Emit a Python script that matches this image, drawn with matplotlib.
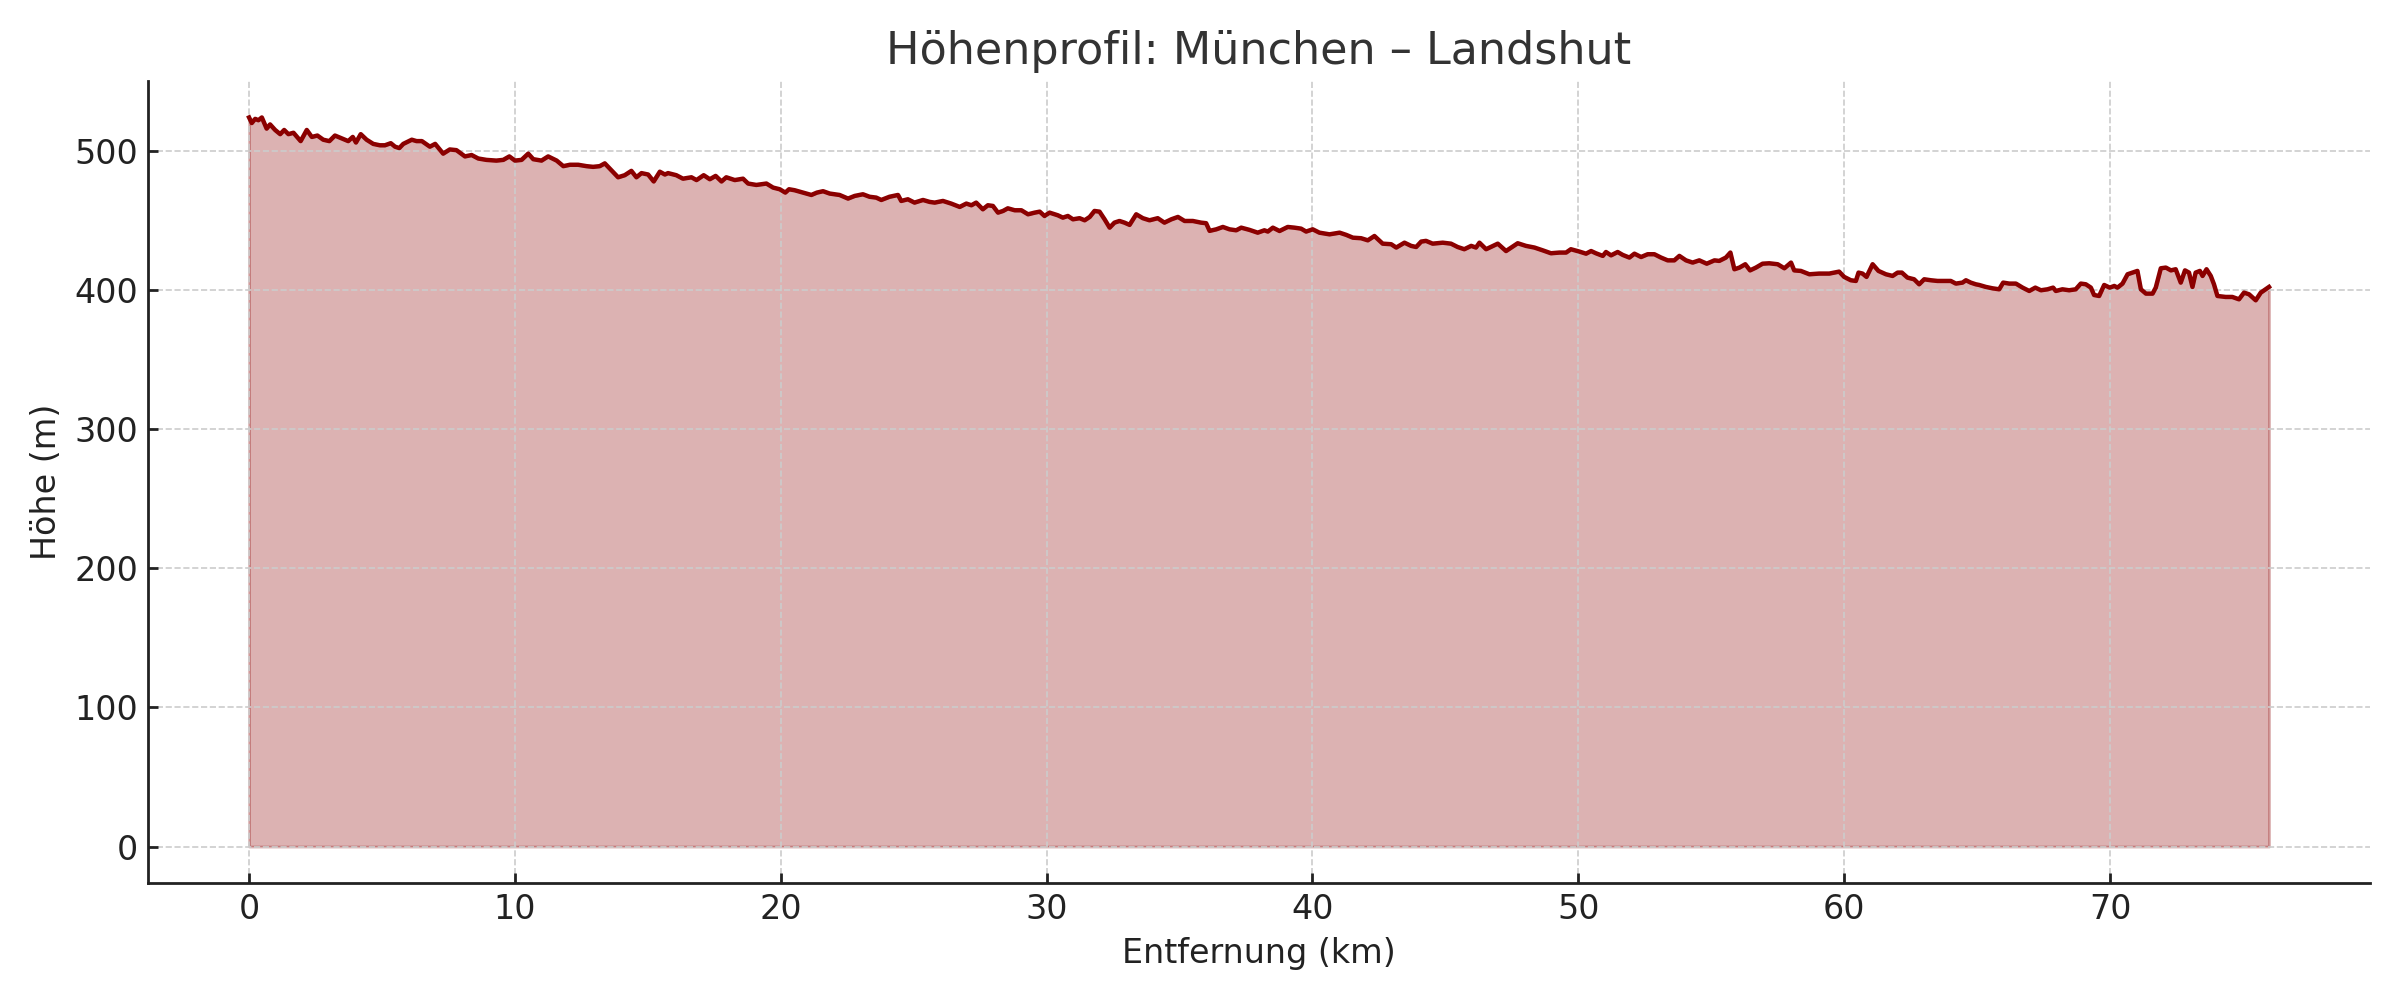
import matplotlib
matplotlib.use("Agg")
import matplotlib.pyplot as plt

# Distance along route (km)
distance_km = [
    0.0, 0.1, 0.23, 0.35, 0.48, 0.66, 0.79, 0.98, 1.17, 1.32, 1.48, 1.67, 1.94, 2.17, 2.36, 2.57, 2.79,
    3.02, 3.23, 3.48, 3.73, 3.9, 4.02, 4.2, 4.42, 4.67, 4.92, 5.11, 5.33, 5.49, 5.65, 5.8, 6.12, 6.3,
    6.5, 6.8, 7.0, 7.3, 7.55, 7.8, 8.12, 8.37, 8.62, 8.93, 9.3, 9.56, 9.79, 10.0, 10.25, 10.5, 10.69,
    11.0, 11.25, 11.57, 11.82, 12.07, 12.38,
    12.69, 12.94, 13.19, 13.38, 13.63, 13.88, 14.13, 14.38, 14.57, 14.76, 15.01, 15.22, 15.45, 15.64,
    15.76, 16.07, 16.32, 16.64, 16.83, 17.1, 17.33, 17.55, 17.77, 17.95, 18.27, 18.58, 18.77, 19.08,
    19.46, 19.71, 19.96, 20.17, 20.31, 20.52, 20.84, 21.15, 21.36, 21.59, 21.84, 22.21, 22.53, 22.78,
    23.09, 23.34, 23.59, 23.78, 24.09, 24.41, 24.53, 24.78, 25.03, 25.35, 25.6,
    25.79, 26.1, 26.41, 26.73, 26.98, 27.17, 27.35, 27.6, 27.79, 27.98, 28.17, 28.36, 28.54, 28.8,
    29.05, 29.3, 29.55, 29.74, 29.92, 30.11, 30.42, 30.61, 30.8, 30.99, 31.24, 31.43, 31.62, 31.8,
    31.99, 32.18, 32.37, 32.55, 32.74, 32.93, 33.12, 33.37, 33.62, 33.87, 34.18, 34.43, 34.69, 34.94,
    35.19, 35.5, 35.81, 36.0, 36.13, 36.38, 36.63, 36.88, 37.13, 37.32, 37.63, 37.94, 38.19, 38.32, 38.51,
    38.76, 39.07, 39.32, 39.57, 39.76, 40.01, 40.26, 40.64, 41.02, 41.27, 41.52, 41.83, 42.08, 42.33,
    42.64, 42.96, 43.15, 43.46, 43.71, 43.9, 44.09, 44.27, 44.52, 44.9, 45.21, 45.46, 45.71, 45.97,
    46.15, 46.28, 46.53, 46.97, 47.28, 47.72, 48.03, 48.35, 48.66, 48.97, 49.29, 49.54, 49.72, 50.04,
    50.29, 50.48, 50.66, 50.92, 51.04, 51.23, 51.48, 51.67,
    51.92, 52.11, 52.36, 52.61, 52.86, 53.11, 53.36, 53.61, 53.8, 54.05, 54.3, 54.55, 54.83, 55.12,
    55.3, 55.55, 55.72, 55.87, 56.06, 56.28, 56.46, 56.68, 56.93, 57.18, 57.5, 57.75, 58.0, 58.12,
    58.37, 58.69, 59.06, 59.44, 59.81, 60.0, 60.25, 60.44, 60.54, 60.69, 60.84, 61.07, 61.29, 61.57,
    61.82, 62.01, 62.17, 62.38, 62.63, 62.82, 63.01, 63.26, 63.51, 63.76, 64.01, 64.2, 64.45, 64.58,
    64.76, 64.95,
    65.08, 65.33, 65.58, 65.83, 65.98, 66.21, 66.46, 66.71, 66.96, 67.19, 67.4, 67.65, 67.86, 67.96,
    68.21, 68.46, 68.71, 68.9, 69.09, 69.28, 69.4, 69.59, 69.78, 69.99, 70.16, 70.28, 70.47, 70.66,
    70.84, 71.03, 71.16, 71.35, 71.6, 71.72, 71.91, 72.1, 72.29, 72.47, 72.66, 72.82, 72.97, 73.1,
    73.22, 73.38, 73.48, 73.63, 73.79, 73.91, 74.04, 74.35, 74.6, 74.85, 75.04, 75.23, 75.48, 75.67,
    75.98,
]

# Elevation (m)
elevation_m = [
    524, 520, 523, 522, 524, 516, 519, 515, 512, 515, 512, 513, 507, 515, 510, 511, 508,
    507, 511, 509, 507, 510, 506, 512, 508, 505, 504, 504, 505.5, 503, 502, 505, 508, 507,
    507, 503, 505, 498, 501, 500.5, 496, 497, 494.5, 493.5, 493, 493.5, 496, 493, 493.5, 498, 494,
    493, 496, 493, 489, 490, 490,
    489, 488.5, 489, 491, 486, 481, 482.5, 485.6, 481, 484, 483, 478, 485, 483,
    484, 482.5, 480, 481, 479, 482.5, 479.6, 482, 478, 481, 479, 480, 476.5, 475.5,
    476.5, 473.6, 472.4, 470, 472.4, 471.7, 470, 468.3, 470, 471, 469.3, 468.3, 465.7, 467.6,
    468.8, 467, 466.4, 464.7, 467, 468.3, 464, 465.2, 462.8, 464.7, 463.3,
    462.8, 464, 462.1, 459.7, 462.1, 460.9, 462.8, 458, 460.9, 460.4, 455.6, 456.8, 458.7, 457.3,
    457.3, 454.4, 455.6, 456.3, 453.2, 455.6, 453.7, 452, 453.2, 450.8, 451.6, 450.1, 452.5, 456.8,
    456.3, 450.8, 444.8, 448.4, 449.6, 448.4, 446.8, 454.4, 451.6, 450.1, 451.6, 448.4, 450.8, 452.5,
    449.6, 449.6, 448.4, 448, 442.5, 443.6, 445.3, 443.6, 442.9, 444.8, 443.2, 441.2, 442.9, 442, 444.8,
    442.4, 445.3, 444.8, 444.1, 442, 443.6, 441.2, 440, 441.2, 439.6, 437.6, 437.2, 435.7, 438.8,
    433.3, 432.9, 430.5, 434, 431.7, 430.9, 434.8, 435.3, 433.3, 434, 433.3, 430.9, 429.3, 431.7,
    430.5, 434, 429.3, 433.3, 428, 433.6, 431.7, 430.5, 428.5, 426.4, 426.9, 426.9, 429.3, 427.6,
    426.1, 428, 426.4, 424.5, 427.3, 424.9, 427.3, 425.2,
    423.3, 426.1, 423.7, 425.7, 425.7, 423.3, 421.3, 421.3, 424.5, 421.3, 419.7, 421.3, 418.9, 421.3,
    420.9, 423.3, 426.9, 414.9, 416.1, 418.5, 414.1, 416.1, 418.9, 419.2, 418.5, 415.6, 419.7, 414.1,
    413.7, 411.3, 411.8, 411.8, 413.2, 409.4, 407, 406.5, 412.5, 411.8, 409.4, 418.5, 413.7, 411.3,
    410.1, 412.5, 412.5, 408.9, 407.7, 404.1, 407.7, 407, 406.5, 406.5, 406.5, 404.6, 405.3, 407,
    405.3, 404.1,
    403.6, 402.2, 401.2, 400.5, 405.3, 404.6, 404.6, 401.7, 399.3, 401.7, 399.8, 400.5, 401.7, 399.3,
    400.5, 399.8, 400.5, 404.6, 404.1, 401.7, 396.4, 395.7, 403.6, 401.7, 402.9, 401.7, 404.6, 411.3,
    412.5, 413.7, 400.5, 397.4, 397.4, 401.7, 415.6, 416.1, 414.1, 414.9, 405.3, 414.1, 412.5, 402.2,
    412.5, 413.7, 410.1, 414.9, 410.1, 404.1, 395.7, 395, 395, 393.3, 398.1, 396.9, 392.6, 398.1,
    402.2,
]

title = "Höhenprofil: München – Landshut"
x_label = "Entfernung (km)"
y_label = "Höhe (m)"

plt.rcParams['font.family'] = ['DejaVu Sans']
text_color = "#222222"

fig = plt.figure(figsize=(12, 5), dpi=200)
ax = fig.add_axes([0.0617, 0.117, 0.9258, 0.802])

line_color = "#8b0000"
ax.fill_between(distance_km, elevation_m, 0, color=line_color, alpha=0.3, linewidth=1)
ax.plot(distance_km, elevation_m, color=line_color, linewidth=1.6)

ax.set_title(title, fontsize=16, color="#333333", pad=6)
ax.set_xlabel(x_label, fontsize=12, color=text_color)
ax.set_ylabel(y_label, fontsize=12, color=text_color)

ax.grid(True, linestyle="--", linewidth=0.6, color="#cccccc")
ax.spines['top'].set_visible(False)
ax.spines['right'].set_visible(False)
for s in ("left", "bottom"):
    ax.spines[s].set_color(text_color)
    ax.spines[s].set_linewidth(1.0)
ax.tick_params(direction="in", labelsize=12, colors=text_color, length=3.5, width=1.0)
ax.margins(x=0.05, y=0.05)

fig.savefig("out.png", dpi=200, facecolor="white")
